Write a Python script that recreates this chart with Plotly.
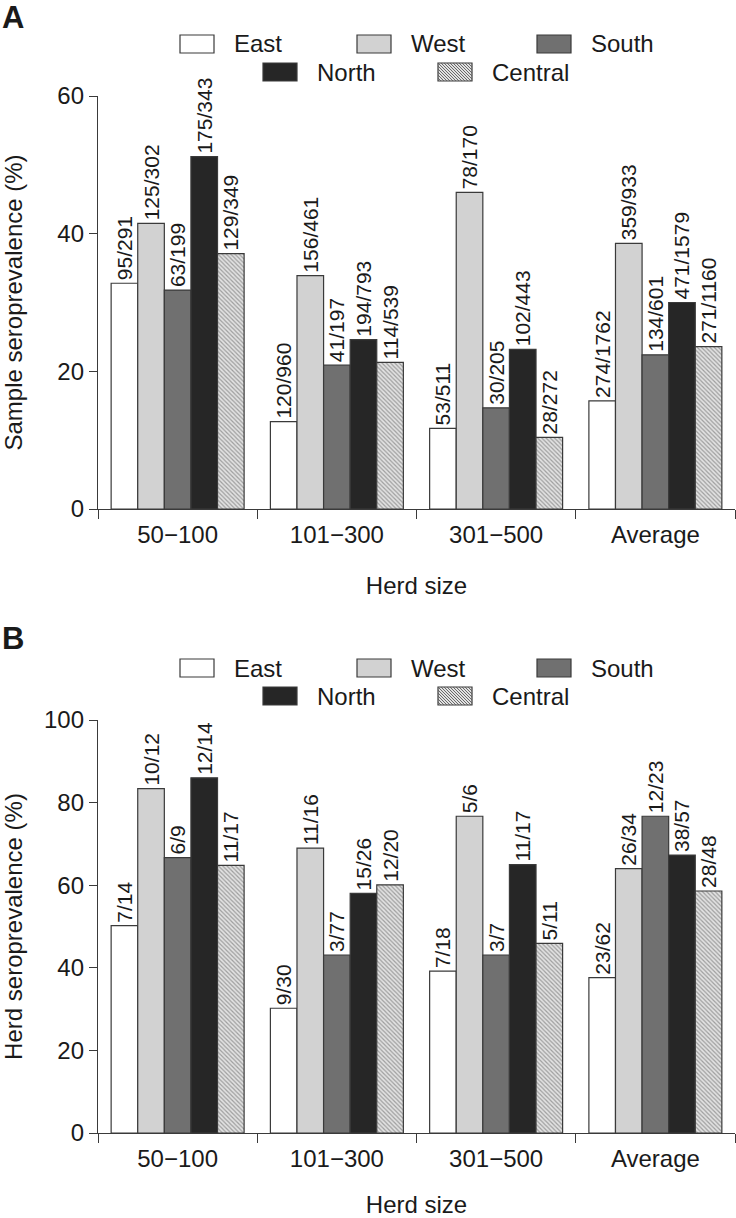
import plotly.graph_objects as go

# ---------------- data ----------------
regions = ["East", "West", "South", "North", "Central"]
herd_sizes = ["50\u2212100", "101\u2212300", "301\u2212500", "Average"]

# Panel A: sample seroprevalence (%)
sample_east = [32.8, 12.7, 11.7, 15.7]
sample_west = [41.5, 33.9, 46.0, 38.6]
sample_south = [31.8, 20.9, 14.7, 22.4]
sample_north = [51.2, 24.6, 23.2, 30.0]
sample_central = [37.1, 21.3, 10.4, 23.6]

sample_east_lbl = ["95/291", "120/960", "53/511", "274/1762"]
sample_west_lbl = ["125/302", "156/461", "78/170", "359/933"]
sample_south_lbl = ["63/199", "41/197", "30/205", "134/601"]
sample_north_lbl = ["175/343", "194/793", "102/443", "471/1579"]
sample_central_lbl = ["129/349", "114/539", "28/272", "271/1160"]

# Panel B: herd seroprevalence (%)
herd_east = [50.2, 30.2, 39.2, 37.6]
herd_west = [83.4, 69.0, 76.7, 64.0]
herd_south = [66.7, 43.1, 43.1, 76.7]
herd_north = [86.0, 58.0, 65.0, 67.3]
herd_central = [64.8, 60.1, 45.9, 58.6]

herd_east_lbl = ["7/14", "9/30", "7/18", "23/62"]
herd_west_lbl = ["10/12", "11/16", "5/6", "26/34"]
herd_south_lbl = ["6/9", "3/77", "3/7", "12/23"]
herd_north_lbl = ["12/14", "15/26", "11/17", "38/57"]
herd_central_lbl = ["11/17", "12/20", "5/11", "28/48"]

sample_ticks = [0, 20, 40, 60]
herd_ticks = [0, 20, 40, 60, 80, 100]

# ---------------- styles ----------------
W, H = 736, 1218
FONT = "Liberation Sans, Arial, Helvetica, sans-serif"
NARROW = "Liberation Sans Narrow, Arial Narrow, Liberation Sans, Arial, sans-serif"
TXT = "#1a1a1a"
EDGE = "#3a3a3a"
fills = {"East": "#ffffff", "West": "#d2d2d2", "South": "#707070",
         "North": "#262626", "Central": "#dcdcdc"}

def px_x(p):
    return p / W

def px_y(p):
    return 1 - p / H

fig = go.Figure()

panelA = [sample_east, sample_west, sample_south, sample_north, sample_central]
panelA_lbl = [sample_east_lbl, sample_west_lbl, sample_south_lbl, sample_north_lbl, sample_central_lbl]
panelB = [herd_east, herd_west, herd_south, herd_north, herd_central]
panelB_lbl = [herd_east_lbl, herd_west_lbl, herd_south_lbl, herd_north_lbl, herd_central_lbl]

def add_panel(vals_list, lbl_list, xa, ya):
    for name, vals, lbls in zip(regions, vals_list, lbl_list):
        marker = dict(color=fills[name], line=dict(color=EDGE, width=1.2))
        if name == "Central":
            marker["pattern"] = dict(shape="\\", size=3, solidity=0.4,
                                     fgcolor="#5a5a5a", bgcolor="#e2e2e2")
        fig.add_trace(go.Bar(
            name=name, x=herd_sizes, y=vals, text=lbls,
            textposition="outside", textangle=-90, constraintext="none",
            textfont=dict(family=NARROW, size=21, color=TXT),
            cliponaxis=False, marker=marker, showlegend=False,
            xaxis=xa, yaxis=ya,
        ))

add_panel(panelA, panelA_lbl, "x", "y")
add_panel(panelB, panelB_lbl, "x2", "y2")

xdom = [px_x(98), px_x(735)]
axis_common = dict(showline=True, linecolor=EDGE, linewidth=1.3, ticks="outside",
                   tickcolor=EDGE, tickwidth=1.3, showgrid=False, zeroline=False,
                   automargin=False,
                   tickfont=dict(family=FONT, size=24, color=TXT))

xcommon = dict(axis_common, tickson="boundaries", ticklen=9, range=[-0.5, 3.5],
               ticklabelstandoff=4)
ttl = dict(family=FONT, size=24, color=TXT)
fig.update_layout(
    xaxis=dict(xcommon, domain=xdom, anchor="y",
               title=dict(text="Herd size", font=ttl, standoff=30)),
    yaxis=dict(axis_common, domain=[px_y(509), px_y(96)], anchor="x", range=[0, 60],
               tickvals=sample_ticks, ticklen=8,
               title=dict(text="Sample seroprevalence (%)", font=ttl, standoff=28)),
    xaxis2=dict(xcommon, domain=xdom, anchor="y2",
                title=dict(text="Herd size", font=ttl, standoff=31)),
    yaxis2=dict(axis_common, domain=[px_y(1133), px_y(720)], anchor="x2", range=[0, 100],
                tickvals=herd_ticks, ticklen=8,
                title=dict(text="Herd seroprevalence (%)", font=ttl, standoff=28)),
    barmode="group", bargap=0.165, bargroupgap=0,
    width=W, height=H, margin=dict(l=0, r=0, t=0, b=0, autoexpand=False),
    paper_bgcolor="white", plot_bgcolor="white",
    font=dict(family=FONT, color=TXT),
)

# ---------------- manual legends & panel letters ----------------
shapes = []
annotations = []
legend_rows = [[("East", 180), ("West", 357), ("South", 537)],
               [("North", 263), ("Central", 438)]]
BOX_W, BOX_H = 34, 18

def hatch_path(x0, y0, x1, y1, step=3.0):
    segs = []
    h = y1 - y0
    c = x0 - h
    while c < x1:
        ya, yb = y0, y1
        xa, xb = c, c + h
        if xa < x0:
            ya = y0 + (x0 - xa); xa = x0
        if xb > x1:
            yb = y1 - (xb - x1); xb = x1
        if xb > xa:
            segs.append("M%.5f,%.5f L%.5f,%.5f" % (px_x(xa), px_y(ya), px_x(xb), px_y(yb)))
        c += step
    return " ".join(segs)

for row_y in ([44, 72], [668, 696]):
    for r, items in enumerate(legend_rows):
        cy = row_y[r]
        for name, bx in items:
            x0, x1 = bx, bx + BOX_W
            y0, y1 = cy - BOX_H / 2, cy + BOX_H / 2
            shapes.append(dict(type="rect", xref="paper", yref="paper",
                               x0=px_x(x0), x1=px_x(x1), y0=px_y(y1), y1=px_y(y0),
                               fillcolor=("#e2e2e2" if name == "Central" else fills[name]),
                               line=dict(color=EDGE, width=1.2)))
            if name == "Central":
                shapes.append(dict(type="path", xref="paper", yref="paper",
                                   path=hatch_path(x0, y0, x1, y1),
                                   line=dict(color="#5a5a5a", width=0.9)))
            annotations.append(dict(xref="paper", yref="paper", x=px_x(x1 + 18), y=px_y(cy),
                                    xanchor="left", yanchor="middle", showarrow=False,
                                    text=name, font=dict(family=FONT, size=24, color=TXT)))

for letter, cy in (("A", 17), ("B", 638)):
    annotations.append(dict(xref="paper", yref="paper", x=0, y=px_y(cy),
                            xanchor="left", yanchor="middle", showarrow=False,
                            text="<b>%s</b>" % letter,
                            font=dict(family=FONT, size=31, color=TXT)))

fig.update_layout(shapes=shapes, annotations=annotations)

fig.write_html("out.html", config={"displayModeBar": False},
               post_script="document.body.style.margin='0px';")
